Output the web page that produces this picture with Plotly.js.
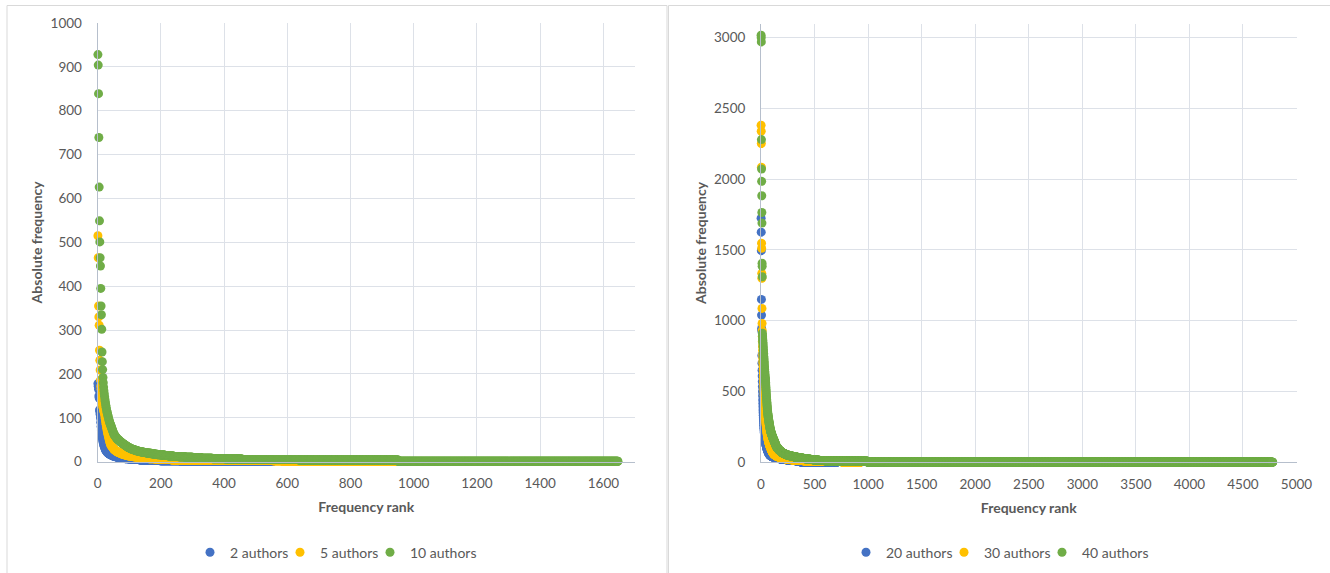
<!DOCTYPE html>
<html>
<head>
<meta charset="utf-8">
<script src="https://cdn.plot.ly/plotly-3.0.1.min.js"></script>
<style>
  html, body { margin: 0; padding: 0; background: #ffffff; }
  #chart { width: 1330px; height: 573px; }
</style>
</head>
<body>
<div id="chart"></div>
<script>
// Rank-frequency lists. Each series = the most frequent words one by one (head),
// followed by the frequency spectrum of the rest: a frequency value and how many
// consecutive ranks share it.

// ---- Left panel: 2, 5 and 10 authors ----
var a2Head = [178, 172, 165, 150, 145, 118, 114, 108, 100, 90, 80, 72, 65, 59, 54, 50, 46, 43, 40, 37,
              35, 33, 31, 29, 27, 26, 25, 24, 23, 22];
var a2TailFreq  = [21, 20, 19, 18, 17, 16, 15, 14, 13, 12, 11, 10, 9, 8, 7, 6, 5, 4, 3, 2, 1];
var a2TailCount = [1, 2, 2, 2, 2, 3, 3, 3, 4, 4, 5, 7, 8, 10, 12, 15, 20, 26, 38, 65, 293];

var a5Head = [515, 465, 355, 330, 311, 254, 231, 209, 186, 172, 165, 155, 146, 139, 133, 128, 124, 121, 118, 115,
              112, 109, 104, 99, 94, 89, 85, 80, 76, 72, 68, 65, 62, 59, 56, 53, 50, 47, 45, 42,
              40, 38, 37, 36, 35, 34, 33, 32, 31, 30];
var a5TailFreq  = [29, 28, 27, 26, 25, 24, 23, 22, 21, 20, 19, 18, 17, 16, 15, 14, 13, 12, 11, 10,
                   9, 8, 7, 6, 5, 4, 3, 2, 1];
var a5TailCount = [1, 1, 2, 2, 2, 2, 2, 3, 3, 3, 3, 4, 4, 5, 5, 6, 7, 8, 9, 11,
                   13, 15, 19, 24, 30, 120, 200, 30, 361];

var a10Head = [928, 904, 839, 739, 626, 549, 501, 465, 446, 395, 355, 335, 302, 250, 228, 210, 192, 180, 170, 162,
               155, 149, 143, 138, 133, 128, 124, 120, 116, 113, 110, 107, 104, 101, 98, 95, 93, 90, 88, 86,
               84, 82, 80, 78, 76, 74, 72, 70, 68, 66, 64, 62, 61, 60, 59, 58, 57, 56, 55, 54];
var a10TailFreq  = [53, 52, 51, 50, 49, 48, 47, 46, 45, 44, 43, 42, 41, 40, 39, 38, 37, 36, 35, 34,
                    33, 32, 31, 30, 29, 28, 27, 26, 25, 24, 23, 22, 21, 20, 19, 18, 17, 16, 15, 14,
                    13, 12, 11, 10, 9, 8, 7, 6, 5, 4, 1];
var a10TailCount = [1, 1, 2, 2, 1, 2, 1, 2, 1, 2, 2, 2, 2, 2, 2, 2, 2, 2, 2, 2,
                    2, 3, 3, 3, 3, 4, 4, 4, 5, 5, 6, 7, 8, 8, 9, 9, 10, 11, 12, 13,
                    15, 17, 20, 24, 28, 34, 42, 52, 180, 314, 696];

// ---- Right panel: 20, 30 and 40 authors ----
var a20Head = [1725, 1626, 1495, 1151, 1040, 945, 930, 755, 700, 650, 610, 570, 535, 500, 470, 440, 415, 392, 370, 350,
               332, 315, 300, 286, 273, 261, 250, 240, 230, 221, 212, 204, 196, 189, 182, 176, 170, 164, 158, 153,
               148, 143, 139, 135, 131, 127, 123, 120, 116, 113, 110, 107, 104, 101, 98, 96, 93, 91, 88, 86,
               84, 82, 80, 78, 76, 74, 72, 70, 69, 67, 66, 64, 63, 61, 60, 59, 57, 56, 55, 54, 53, 52, 51, 50];
var a20TailFreq  = [49, 48, 47, 46, 45, 44, 43, 42, 41, 40, 39, 38, 37, 36, 35, 34, 33, 32, 31, 30,
                    29, 28, 27, 26, 25, 24, 23, 22, 21, 20, 19, 18, 17, 16, 15, 14, 13, 12, 11, 10,
                    9, 8, 7, 6, 5, 4, 3, 2, 1];
var a20TailCount = [2, 2, 2, 2, 2, 2, 3, 3, 3, 3, 3, 3, 3, 4, 4, 4, 4, 5, 5, 5,
                    6, 6, 6, 7, 7, 8, 8, 9, 9, 10, 10, 11, 11, 12, 12, 13, 13, 14, 14, 6,
                    6, 5, 5, 5, 5, 5, 5, 8, 326];

var a30Head = [2381, 2339, 2252, 2085, 1548, 1512, 1335, 1300, 1087, 981, 930, 890, 855, 820, 790, 760, 735, 712, 700, 680,
               655, 630, 608, 585, 565, 545, 525, 507, 490, 473, 457, 442, 428, 414, 400, 387, 375, 363, 351, 340,
               329, 319, 309, 300, 291, 282, 274, 266, 258, 251, 244, 237, 230, 224, 218, 212, 206, 200, 195, 190,
               185, 180, 176, 172, 168, 164, 160, 156, 153, 150, 147, 144, 141, 138, 135, 132, 130, 127, 125, 122,
               120, 118, 116, 114, 112, 110, 108, 106, 104, 102, 100, 98, 96, 94, 92, 90, 88, 86, 84, 83,
               81, 80, 78, 77, 75, 74, 72, 71, 70, 69, 67, 66, 65, 64, 63, 62, 61, 60];
var a30TailFreq  = [59, 58, 57, 56, 55, 54, 53, 52, 51, 50, 49, 48, 47, 46, 45, 44, 43, 42, 41, 40,
                    39, 38, 37, 36, 35, 34, 33, 32, 31, 30, 29, 28, 27, 26, 25, 24, 23, 22, 21, 20,
                    19, 18, 17, 16, 15, 14, 13, 12, 11, 10, 9, 8, 7, 6, 5, 4, 3, 2, 1];
var a30TailCount = [1, 1, 1, 2, 1, 2, 1, 2, 2, 2, 2, 2, 2, 2, 2, 3, 3, 3, 3, 3,
                    3, 3, 4, 4, 4, 4, 5, 5, 5, 5, 6, 6, 6, 7, 7, 7, 8, 8, 9, 9,
                    10, 10, 11, 11, 12, 12, 25, 30, 40, 50, 70, 90, 60, 30, 15, 8, 6, 7, 160];

var a40Head = [3017, 3000, 2970, 2280, 2072, 1985, 1883, 1765, 1690, 1406, 1385, 1311,
               912, 897, 886, 871, 860, 846, 838, 822, 811, 797, 786, 771, 765, 748, 737, 726, 712, 704,
               690, 676, 668, 655, 641, 633, 620, 611, 600, 594, 585, 579, 566, 553, 540, 528, 515, 503,
               490, 478, 466, 455, 444, 433, 422, 412, 402, 392, 383, 374, 365, 357, 349, 342, 336, 330,
               324, 319, 313, 308, 303, 298, 293, 288, 283, 278, 274, 269, 265, 260, 256, 252, 247, 243,
               239, 235, 231, 228, 224, 221, 218, 216, 213, 211, 208, 206, 204, 201, 199, 196, 194, 192,
               190, 187, 185, 183, 181, 179, 177, 175, 173, 171, 169, 167, 165, 163, 161, 160, 158, 156,
               154, 152, 150, 149, 147, 145, 143, 142, 140, 138, 136, 134, 132, 130, 128, 126, 124, 122,
               120, 118, 116, 114, 112];
var a40TailFreq  = [111, 110, 109, 108, 107, 106, 105, 104, 103, 102, 101, 100, 99, 98, 97, 96, 95, 94, 93, 92,
                    91, 90, 89, 88, 87, 86, 85, 84, 83, 82, 81, 80, 79, 78, 77, 76, 75, 74, 73, 72,
                    71, 70, 69, 68, 67, 66, 65, 64, 63, 62, 61, 60, 59, 58, 57, 56, 55, 54, 53, 52,
                    51, 50, 49, 48, 47, 46, 45, 44, 43, 42, 41, 40, 39, 38, 37, 36, 35, 34, 33, 32,
                    31, 30, 29, 28, 27, 26, 25, 24, 23, 22, 21, 20, 19, 18, 17, 16, 15, 14, 13, 12,
                    11, 10, 9, 8, 7, 2, 1];
var a40TailCount = [1, 1, 1, 1, 1, 1, 1, 1, 1, 1, 1, 1, 1, 1, 1, 1, 1, 1, 1, 1,
                    1, 1, 1, 2, 1, 2, 1, 2, 1, 2, 1, 2, 1, 2, 1, 2, 1, 2, 1, 2,
                    1, 2, 2, 3, 2, 3, 2, 3, 3, 2, 3, 3, 3, 2, 3, 3, 3, 3, 3, 4,
                    4, 4, 5, 5, 5, 5, 5, 6, 6, 6, 6, 6, 6, 6, 7, 7, 7, 7, 7, 7,
                    8, 8, 8, 8, 8, 9, 9, 10, 10, 10, 11, 11, 11, 11, 12, 12, 12, 12, 12, 40,
                    50, 60, 100, 100, 90, 200, 3584];

var seriesNames = ['2 authors', '5 authors', '10 authors', '20 authors', '30 authors', '40 authors'];
var seriesColors = ['#4472C4', '#FFC000', '#70AD47'];

var leftTicks = { x: { max: 1700, step: 200 }, y: { max: 1000, step: 100 } };
var rightTicks = { x: { max: 5000, step: 500 }, y: { max: 3100, step: 500 } };

// Expand a head list plus spectrum runs into (rank, frequency) pairs.
function rankFrequency(head, tailFreq, tailCount) {
  var y = head.slice();
  for (var i = 0; i < tailFreq.length; i++) {
    for (var k = 0; k < tailCount[i]; k++) y.push(tailFreq[i]);
  }
  var x = [];
  for (var r = 1; r <= y.length; r++) x.push(r);
  return { x: x, y: y };
}

var FONT = 'Lato, "Liberation Sans", Arial, sans-serif';
var GRID = '#dde1e8';
var AXIS = '#b6bfcc';
var TEXT = '#595959';

function markerTrace(name, color, data, xa, ya, legendId) {
  return {
    type: 'scatter', mode: 'markers', name: name,
    x: data.x, y: data.y, xaxis: xa, yaxis: ya, legend: legendId,
    marker: { color: color, size: 9, line: { width: 0 } },
    cliponaxis: false, hoverinfo: 'skip'
  };
}

var traces = [
  markerTrace(seriesNames[0], seriesColors[0], rankFrequency(a2Head, a2TailFreq, a2TailCount), 'x', 'y', 'legend'),
  markerTrace(seriesNames[1], seriesColors[1], rankFrequency(a5Head, a5TailFreq, a5TailCount), 'x', 'y', 'legend'),
  markerTrace(seriesNames[2], seriesColors[2], rankFrequency(a10Head, a10TailFreq, a10TailCount), 'x', 'y', 'legend'),
  markerTrace(seriesNames[3], seriesColors[0], rankFrequency(a20Head, a20TailFreq, a20TailCount), 'x2', 'y2', 'legend2'),
  markerTrace(seriesNames[4], seriesColors[1], rankFrequency(a30Head, a30TailFreq, a30TailCount), 'x2', 'y2', 'legend2'),
  markerTrace(seriesNames[5], seriesColors[2], rankFrequency(a40Head, a40TailFreq, a40TailCount), 'x2', 'y2', 'legend2')
];

var W = 1330, H = 573;
function px(v) { return v / W; }
function py(v) { return (H - v) / H; }

var tickFont = { family: FONT, size: 13.5, color: TEXT };
var titleFont = { family: FONT, size: 14, color: TEXT };
var legendFont = { family: FONT, size: 14, color: TEXT };

function xAxis(domain, ticks, anchor) {
  return {
    domain: domain, anchor: anchor, range: [0, ticks.max], tick0: 0, dtick: ticks.step,
    showgrid: true, gridcolor: GRID, gridwidth: 1, zeroline: false,
    showline: true, linecolor: AXIS, linewidth: 1, ticks: '',
    tickfont: tickFont, ticklabelstandoff: 9,
    title: { text: '<b>Frequency rank</b>', font: titleFont, standoff: 12 },
    fixedrange: true
  };
}
function yAxis(domain, ticks, anchor) {
  return {
    domain: domain, anchor: anchor, range: [0, ticks.max], tick0: 0, dtick: ticks.step,
    showgrid: true, gridcolor: GRID, gridwidth: 1, zeroline: false,
    showline: true, linecolor: AXIS, linewidth: 1, ticks: '',
    tickfont: tickFont, ticklabelstandoff: 12,
    title: { text: '<b>Absolute frequency</b>', font: titleFont, standoff: 4 },
    fixedrange: true
  };
}

// Horizontal legend row; the first marker sits 20px right of the left edge.
function legendRow(firstMarkerX, entryWidth) {
  return {
    orientation: 'h', x: px(firstMarkerX - 20), xanchor: 'left', y: py(552.7), yanchor: 'middle',
    font: legendFont, bgcolor: 'rgba(0,0,0,0)', traceorder: 'normal',
    entrywidth: entryWidth, entrywidthmode: 'pixels'
  };
}

var layout = {
  width: W, height: H,
  margin: { l: 0, r: 0, t: 0, b: 0 },
  paper_bgcolor: '#ffffff', plot_bgcolor: '#ffffff',
  showlegend: true,
  hovermode: false,
  xaxis: xAxis([px(97.6), px(635)], leftTicks.x, 'y'),
  yaxis: yAxis([py(461.7), py(23)], leftTicks.y, 'x'),
  xaxis2: xAxis([px(761), px(1296.5)], rightTicks.x, 'y2'),
  yaxis2: yAxis([py(462.3), py(23.5)], rightTicks.y, 'x2'),
  legend: legendRow(210, 45),
  legend2: legendRow(866, 53),
  shapes: [
    { type: 'rect', xref: 'paper', yref: 'paper', x0: px(7), x1: px(667), y0: -0.1, y1: py(5.5),
      line: { color: '#d9d9d9', width: 1 }, fillcolor: 'rgba(0,0,0,0)', layer: 'below' },
    { type: 'rect', xref: 'paper', yref: 'paper', x0: px(668.5), x1: 1.1, y0: -0.1, y1: py(5.5),
      line: { color: '#d9d9d9', width: 1 }, fillcolor: 'rgba(0,0,0,0)', layer: 'below' }
  ]
};

Plotly.newPlot('chart', traces, layout, { staticPlot: true, displayModeBar: false }).then(function (gd) {
  // Fixed-width legend entries: let the last label run past the entry box instead of being cut.
  var boxes = gd.querySelectorAll('g.scrollbox');
  for (var i = 0; i < boxes.length; i++) boxes[i].removeAttribute('clip-path');
});
</script>
</body>
</html>
